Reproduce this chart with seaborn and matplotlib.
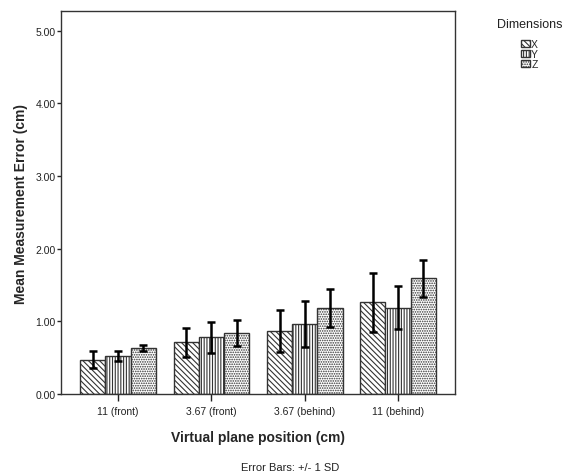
import matplotlib
matplotlib.use("Agg")
import matplotlib.pyplot as plt
import seaborn as sns
import pandas as pd
import numpy as np
from matplotlib.patches import Patch

positions = ["11 (front)", "3.67 (front)", "3.67 (behind)", "11 (behind)"]
dimensions = ["X", "Y", "Z"]
mean_x = [0.47, 0.71, 0.87, 1.26]
mean_y = [0.52, 0.78, 0.96, 1.19]
mean_z = [0.63, 0.84, 1.18, 1.59]
sd_x = [0.115, 0.20, 0.29, 0.40]
sd_y = [0.07, 0.21, 0.32, 0.30]
sd_z = [0.04, 0.18, 0.26, 0.26]
yticks = [0.0, 1.0, 2.0, 3.0, 4.0, 5.0]

rows = []
for d, means, sds in zip(dimensions, [mean_x, mean_y, mean_z], [sd_x, sd_y, sd_z]):
    for p, m, s in zip(positions, means, sds):
        rows.append({"Position": p, "Dimension": d, "Mean": m, "SD": s})
df = pd.DataFrame(rows)

sns.set_style("white")
plt.rcParams["font.family"] = ["Liberation Sans", "DejaVu Sans"]
plt.rcParams["hatch.linewidth"] = 0.8
plt.rcParams["hatch.color"] = "#333333"

fig = plt.figure(figsize=(5.66, 4.77), dpi=100)
ax = fig.add_axes([0.1078, 0.1719, 0.804 - 0.1078, 0.9748 - 0.1719])

sns.barplot(data=df, x="Position", y="Mean", hue="Dimension", order=positions,
            hue_order=dimensions, errorbar=None, width=0.81, ax=ax,
            palette=["white", "white", "white"], edgecolor="#333333",
            linewidth=1.0, legend=False)

hatches = {"X": "\\" * 6, "Y": "|" * 6, "Z": "." * 7}
for container, d in zip(ax.containers, dimensions):
    sub = df[df["Dimension"] == d].set_index("Position").loc[positions]
    xs = []
    for bar in container:
        bar.set_hatch(hatches[d])
        bar.set_facecolor("white")
        xs.append(bar.get_x() + bar.get_width() / 2)
    ax.errorbar(xs, sub["Mean"].values, yerr=sub["SD"].values, fmt="none",
                ecolor="black", elinewidth=1.8, capsize=3, capthick=1.8, zorder=5)

ax.set_xlim(-0.61, 3.61)
ax.set_ylim(0, 5.27)
ax.set_yticks(yticks)
ax.set_yticklabels([f"{v:.2f}" for v in yticks], fontsize=7.5, color="#222222")
ax.tick_params(axis="x", labelsize=7.5, colors="#222222", length=5, width=1, direction="out", bottom=True)
ax.tick_params(axis="y", length=3, width=1, pad=1, direction="out", left=True)
ax.set_xlabel("Virtual plane position (cm)", fontsize=10, fontweight="bold", labelpad=10)
ax.set_ylabel("Mean Measurement Error (cm)", fontsize=10, fontweight="bold", labelpad=5)
for s in ax.spines.values():
    s.set_visible(True)
    s.set_color("#333333")
    s.set_linewidth(1.0)

handles = [Patch(facecolor="white", edgecolor="#333333", hatch=hatches[d], label=d) for d in dimensions]
fig.text(530 / 566, 1 - 25 / 477, "Dimensions", ha="center", va="center", fontsize=9, color="#222222")
leg = fig.legend(handles=handles, loc="upper left",
                 bbox_to_anchor=(514 / 566, 1 - 33 / 477), frameon=False, fontsize=7.5,
                 handlelength=0.8, handleheight=0.75,
                 handletextpad=0.15, labelspacing=0.0, borderpad=0.2)

fig.text(0.513, 0.008, "Error Bars: +/- 1 SD", ha="center", va="bottom", fontsize=8, color="#222222")

fig.savefig("out.png", dpi=100)
